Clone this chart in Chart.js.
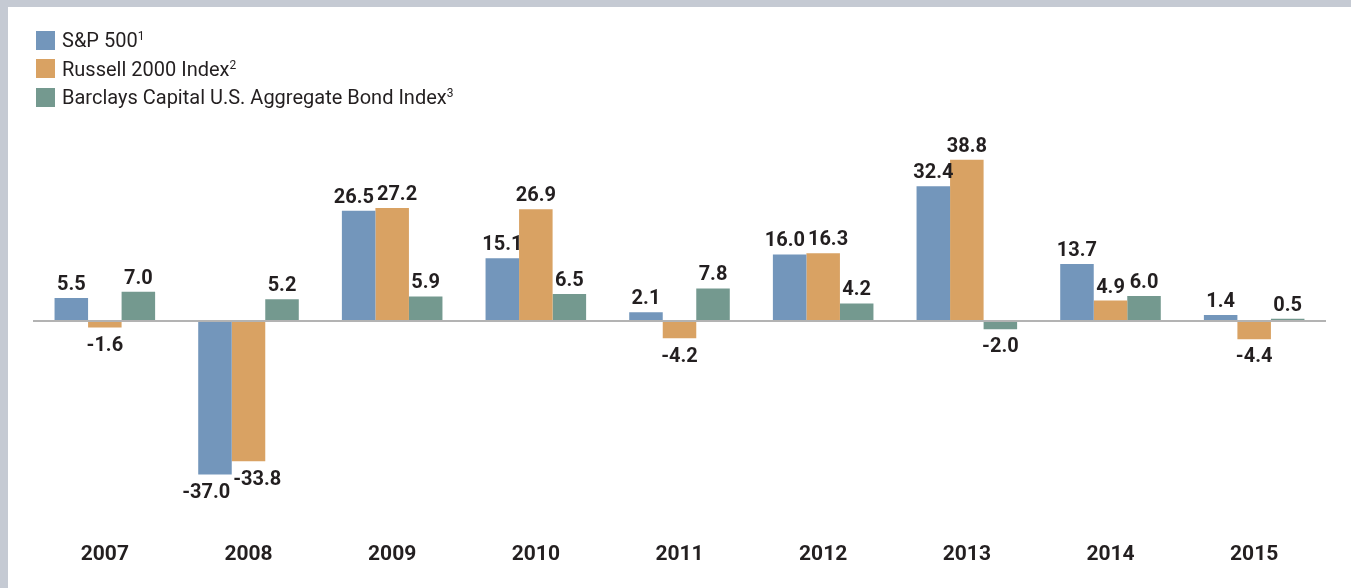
<!DOCTYPE html>
<html lang="en">

<head>
    <meta charset="UTF-8">
    <title>Annual Returns</title>
    <script src="https://cdn.jsdelivr.net/npm/chart.js"></script>
    <style>
        body {
            margin: 0;
            padding: 0;
            width: 1351px;
            height: 588px;
            background-color: #c5cad3;
            font-family: Roboto, "Liberation Sans", Arial, sans-serif;
            color: #231f20;
            overflow: hidden;
        }

        .panel {
            position: absolute;
            left: 8px;
            top: 7px;
            width: 1343px;
            height: 581px;
            background: #fff;
        }

        .panel canvas {
            position: absolute;
            left: 0;
            top: 0;
        }

        .legend {
            position: absolute;
            left: 28px;
            top: 19px;
            z-index: 2;
        }

        .legend-row {
            display: flex;
            align-items: center;
            height: 28.5px;
            font-size: 20px;
            white-space: nowrap;
        }

        .swatch {
            width: 19px;
            height: 19px;
            margin-right: 7px;
        }

        .legend sup {
            font-size: 12px;
            vertical-align: 7px;
            line-height: 0;
        }
    </style>
</head>

<body>
    <div class="panel">
        <div class="legend" id="legend"></div>
        <canvas id="returnsChart" width="1343" height="581"></canvas>
    </div>

    <script>
        // Data
        const years = ['2007', '2008', '2009', '2010', '2011', '2012', '2013', '2014', '2015'];
        const sp500 = [5.5, -37.0, 26.5, 15.1, 2.1, 16.0, 32.4, 13.7, 1.4];
        const russell2000 = [-1.6, -33.8, 27.2, 26.9, -4.2, 16.3, 38.8, 4.9, -4.4];
        const barclaysAgg = [7.0, 5.2, 5.9, 6.5, 7.8, 4.2, -2.0, 6.0, 0.5];

        const seriesNames = ['S&P 500', 'Russell 2000 Index', 'Barclays Capital U.S. Aggregate Bond Index'];
        const seriesNotes = ['1', '2', '3'];
        const seriesColors = ['#7396bb', '#d9a263', '#74998f'];

        // HTML legend (stacked rows with footnote marks)
        const legendEl = document.getElementById('legend');
        seriesNames.forEach((name, i) => {
            const row = document.createElement('div');
            row.className = 'legend-row';
            const sw = document.createElement('span');
            sw.className = 'swatch';
            sw.style.background = seriesColors[i];
            const txt = document.createElement('span');
            txt.textContent = name;
            const sup = document.createElement('sup');
            sup.textContent = seriesNotes[i];
            txt.appendChild(sup);
            row.appendChild(sw);
            row.appendChild(txt);
            legendEl.appendChild(row);
        });

        // value labels above/below bars, nudged apart when they collide
        const valueLabels = {
            id: 'valueLabels',
            afterDatasetsDraw(chart) {
                const ctx = chart.ctx;
                const cap = 14.3;
                ctx.save();
                ctx.font = 'bold 20px Roboto, "Liberation Sans", Arial, sans-serif';
                ctx.fillStyle = '#231f20';
                ctx.textAlign = 'center';
                ctx.textBaseline = 'alphabetic';

                years.forEach((yr, j) => {
                    const items = chart.data.datasets.map((ds, i) => {
                        const el = chart.getDatasetMeta(i).data[j];
                        const v = ds.data[j];
                        const text = v.toFixed(1);
                        const w = ctx.measureText(text).width;
                        const base = v >= 0 ? el.y - 8 : el.y + 9 + cap;
                        return { text, x: el.x, base, w };
                    });
                    for (let k = 0; k < items.length - 1; k++) {
                        const a = items[k], b = items[k + 1];
                        if (Math.abs(a.base - b.base) < cap + 2) {
                            const overlap = (a.x + a.w / 2) - (b.x - b.w / 2) + 3;
                            if (overlap > 0) {
                                a.x -= overlap / 2;
                                b.x += overlap / 2;
                            }
                        }
                    }
                    items.forEach(it => ctx.fillText(it.text, it.x, it.base));
                });
                ctx.restore();
            }
        };

        const ctx = document.getElementById('returnsChart').getContext('2d');
        new Chart(ctx, {
            type: 'bar',
            data: {
                labels: years,
                datasets: [
                    { label: seriesNames[0], data: sp500, backgroundColor: seriesColors[0] },
                    { label: seriesNames[1], data: russell2000, backgroundColor: seriesColors[1] },
                    { label: seriesNames[2], data: barclaysAgg, backgroundColor: seriesColors[2] }
                ]
            },
            options: {
                responsive: false,
                animation: false,
                layout: {
                    padding: { left: 25, right: 25, top: 127, bottom: 0 }
                },
                datasets: {
                    bar: { categoryPercentage: 0.7, barPercentage: 1.0, borderWidth: 0 }
                },
                plugins: {
                    legend: { display: false },
                    tooltip: { enabled: false }
                },
                scales: {
                    x: {
                        grid: { display: false, drawTicks: false },
                        border: { display: false },
                        ticks: {
                            color: '#231f20',
                            padding: 55,
                            font: { family: 'Roboto, "Liberation Sans", Arial, sans-serif', size: 21, weight: 'bold' }
                        },
                        afterFit(scale) {
                            scale.height = 101;
                        }
                    },
                    y: {
                        min: -40,
                        max: 45,
                        ticks: { display: false, stepSize: 5 },
                        border: { display: false },
                        grid: {
                            drawTicks: false,
                            lineWidth: 2,
                            color: c => c.tick.value === 0 ? '#b3b3b3' : 'rgba(0,0,0,0)'
                        }
                    }
                }
            },
            plugins: [valueLabels]
        });
    </script>
</body>

</html>
